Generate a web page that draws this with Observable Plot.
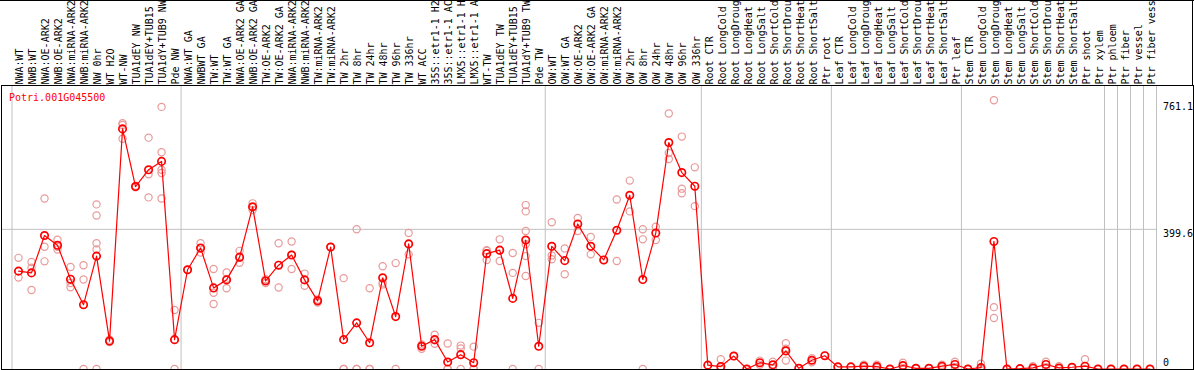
<!DOCTYPE html>
<html>
<head>
<meta charset="utf-8">
<script src="https://cdn.jsdelivr.net/npm/d3@7"></script>
<script src="https://cdn.jsdelivr.net/npm/@observablehq/plot@0.6"></script>
<style>
  html, body { margin: 0; padding: 0; background: #fff; }
  #chart svg { display: block; }
</style>
</head>
<body>
<div id="chart"></div>
<script>
const title = "Potri.001G045500";

const categories = [
  "NWA:WT","NWB:WT","NWA:OE-ARK2","NWB:OE-ARK2","NWA:miRNA-ARK2","NWB:miRNA-ARK2","NW 0hr","WT H2O","WT-NW","TUA1dEY NW","TUA1dEY+TUB15 NW","TUA1dY+TUB9 NW","Pde NW",
  "NWA:WT GA","NWBWT GA","TW:WT","TW:WT GA","NWA:OE-ARK2 GA","NWB:OE-ARK2 GA","TW:OE-ARK2","TW:OE-ARK2 GA","NWA:miRNA-ARK2 GA","NWB:miRNA-ARK2 GA","TW:miRNA-ARK2","TW:miRNA-ARK2 GA","TW 2hr","TW 8hr","TW 24hr","TW 48hr","TW 96hr","TW 336hr","WT ACC","35S::etr1-1 H2O","35S::etr1-1 ACC","LMX5::etr1-1 H2O","LMX5::etr1-1 ACC","WT-TW","TUA1dEY TW","TUA1dEY+TUB15 TW","TUA1dY+TUB9 TW","Pde TW",
  "OW:WT","OW:WT GA","OW:OE-ARK2","OW:OE-ARK2 GA","OW:miRNA-ARK2","OW:miRNA-ARK2 GA","OW 2hr","OW 8hr","OW 24hr","OW 48hr","OW 96hr","OW 336hr",
  "Root CTR","Root LongCold","Root LongDrought","Root LongHeat","Root LongSalt","Root ShortCold","Root ShortDrought","Root ShortHeat","Root ShortSalt","Ptr root",
  "Leaf CTR","Leaf LongCold","Leaf LongDrought","Leaf LongHeat","Leaf LongSalt","Leaf ShortCold","Leaf ShortDrought","Leaf ShortHeat","Leaf ShortSalt","Ptr leaf",
  "Stem CTR","Stem LongCold","Stem LongDrought","Stem LongHeat","Stem LongSalt","Stem ShortCold","Stem ShortDrought","Stem ShortHeat","Stem ShortSalt","Ptr shoot","Ptr xylem","Ptr phloem","Ptr fiber","Ptr vessel","Ptr fiber vessel"
];

// number of categories in each separated group (left to right)
const groupSizes = [13, 28, 12, 10, 10, 11, 1, 1, 1, 1];

const means = [
  280,275,382,354,257,184,323,80,687,522,570,594,84,
  284,346,232,255,320,464,252,297,326,255,195,349,84,132,75,261,150,358,65,84,20,41,18,330,340,202,369,65,
  351,310,415,351,312,397,497,256,389,648,562,523,
  11,7,37,0,18,12,52,2,25,38,
  6,6,8,7,0,10,2,2,8,13,
  0,4,365,0,1,3,13,3,5,8,0,0,0,0,0
];

const replicates = [
  [318,262,280],[306,290,226],[488,350,308],[370,350,342],[292,246,234],[297,256,0],[471,439,360,342,0],[84,77],[703,698,659],[524,520],[662,557,491],[750,620,570,561,488],[169,0,83],
  [284],[360,333,346],[286,218,186],[276,231,258],[338,304,318],[474,455,463],[246,257,253],[360,233,298],[365,286,327],[273,238,255],[199,190,196],[349],[260,0,0],[400,0,0],[231,0,0],[294,247,242],[303,0],[389,328,357],[70,58,67],[98,72,82],[73,0,0],[67,59,0],[64,0,0],[340,312,338],[371,309,340],[332,275,0],[469,451,395,357,323,266],[132,0],
  [420,325,314],[345,271],[432,395],[378,328],[312],[485,309],[539,451],[400,371,0],[407,369],[731,618,601],[665,516,503],[577,466],
  [11],[28,0,0],[37],[0],[24,12],[21,3],[74,24,58],[2],[31,19],[38],
  [6],[6],[12,5],[12,3],[0],[18,3],[2],[2],[12,5],[21,6],
  [0],[15,0],[769,177,146],[0],[1],[8,0],[21,5],[8,0],[5],[28,0],[0],[0],[0],[0],[0]
];

const yTicks = [0, 399.6, 761.1];

// ---- derived tables ----
const meanRows = means.map((v, i) => ({i, v}));
const repRows = replicates.flatMap((arr, i) => arr.map(v => ({i, v})));
const breaks = [-0.5];
{ let acc = -0.5; for (const n of groupSizes) { acc += n; breaks.push(acc); } }
const n = categories.length;
const yMax = yTicks[yTicks.length - 1];

const mono = "DejaVu Sans Mono";

const chart = Plot.plot({
  width: 1194,
  height: 370,
  marginTop: 85,
  marginBottom: 1,
  marginLeft: 1,
  marginRight: 1,
  x: {type: "linear", domain: [0, n - 1], range: [18, 1149.5], axis: null},
  y: {type: "linear", domain: [0, yMax], range: [368.5, 102.5], axis: null},
  marks: [
    Plot.ruleX(breaks, {x: d => d, stroke: "#c0c0c0", strokeWidth: 1}),
    Plot.ruleY(yTicks.filter(v => v > 0 && v < yMax), {y: d => d, x1: (1 - 18) / 13, x2: breaks[breaks.length - 1], stroke: "#c0c0c0", strokeWidth: 1}),
    Plot.dot(repRows, {x: "i", y: "v", r: 3.6, stroke: "#e89a9a", strokeWidth: 1.2, fill: "none"}),
    Plot.line(meanRows, {x: "i", y: "v", stroke: "#ff0000", strokeWidth: 1.2}),
    Plot.dot(meanRows, {x: "i", y: "v", r: 3.7, stroke: "#ff0000", strokeWidth: 1.7, fill: "none"}),
    Plot.frame({stroke: "#000", strokeWidth: 1}),
    Plot.text(categories, {
      x: (d, i) => i, text: d => d, frameAnchor: "top", rotate: -90,
      textAnchor: "start", lineAnchor: "middle", dx: 1.5, dy: -1,
      fontFamily: mono, fontSize: 10, fill: "#000"
    }),
    Plot.text([title], {
      text: d => d, frameAnchor: "top-left", textAnchor: "start", lineAnchor: "top",
      dx: 7.5, dy: 8, fontFamily: mono, fontSize: 10, fill: "#ff0000"
    }),
    Plot.text(yTicks.filter(v => v > 0), {
      y: d => d, text: d => String(d), frameAnchor: "right", textAnchor: "start",
      lineAnchor: "top", dx: -30.5, dy: 0.3, fontFamily: mono, fontSize: 10, fill: "#000"
    }),
    Plot.text(yTicks.filter(v => v === 0), {
      y: d => d, text: d => String(d), frameAnchor: "right", textAnchor: "start",
      lineAnchor: "bottom", dx: -30.5, dy: -3, fontFamily: mono, fontSize: 10, fill: "#000"
    })
  ]
});

document.getElementById("chart").appendChild(chart);

// border around the label band (top edge and right edge)
const svg = d3.select(chart);
svg.append("line").attr("x1", 0).attr("x2", 1194).attr("y1", 0.5).attr("y2", 0.5).attr("stroke", "#000");
svg.append("line").attr("x1", 1192.5).attr("x2", 1192.5).attr("y1", 0).attr("y2", 85).attr("stroke", "#000");
</script>
</body>
</html>
